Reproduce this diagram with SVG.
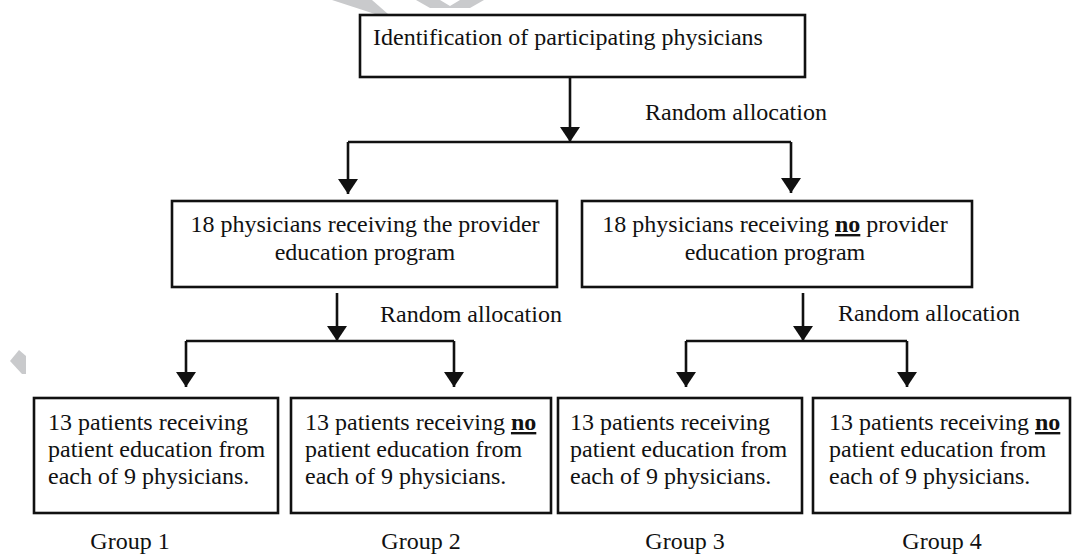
<svg xmlns="http://www.w3.org/2000/svg" width="1073" height="556" viewBox="0 0 1073 556">
<style>
.box{fill:#fff;stroke:#111;stroke-width:2.6}
.t{font-family:"Liberation Serif","Times New Roman",serif;font-size:24px;fill:#111}
.c{text-anchor:middle}
.no{font-weight:bold;text-decoration:underline}
.ln{fill:none;stroke:#111;stroke-width:2.6}
.wm{fill:#c9cacc}
</style>
<defs>
<marker id="ah" viewBox="0 0 15 20" refX="15" refY="10" markerWidth="15" markerHeight="20" markerUnits="userSpaceOnUse" orient="auto">
<path d="M0,0 L15,10 L0,20 z" fill="#111"/>
</marker>
</defs>
<rect width="1073" height="556" fill="#fff"/>
<g id="watermark">
<polygon class="wm" points="332,0 372,0 388,14 378,15"/>
<polygon class="wm" points="416,0 440,0 450,6 460,0 484,0 470,8 430,8"/>
<polygon class="wm" points="10,361 19,350 26,356 26,374 22,374"/>
</g>
<g id="connectors">
<path class="ln" d="M570,77 V142" marker-end="url(#ah)"/>
<path class="ln" d="M348,142 H791"/>
<path class="ln" d="M348,142 V194" marker-end="url(#ah)"/>
<path class="ln" d="M791,142 V193" marker-end="url(#ah)"/>
<path class="ln" d="M337,293 V341" marker-end="url(#ah)"/>
<path class="ln" d="M186,341 H454"/>
<path class="ln" d="M186,341 V387" marker-end="url(#ah)"/>
<path class="ln" d="M454,341 V387" marker-end="url(#ah)"/>
<path class="ln" d="M803,293 V341" marker-end="url(#ah)"/>
<path class="ln" d="M686,341 H907"/>
<path class="ln" d="M686,341 V387" marker-end="url(#ah)"/>
<path class="ln" d="M907,341 V387" marker-end="url(#ah)"/>
<text class="t" x="645" y="120">Random allocation</text>
<text class="t" x="380" y="322">Random allocation</text>
<text class="t" x="838" y="321">Random allocation</text>
</g>
<g id="n0">
<rect class="box" x="360" y="15" width="445" height="62"/>
<text class="t" x="373" y="45">Identification of participating physicians</text>
</g>
<g id="n1">
<rect class="box" x="172" y="201" width="385" height="86"/>
<text class="t c" x="365" y="232">18 physicians receiving the provider</text>
<text class="t c" x="365" y="260">education program</text>
</g>
<g id="n2">
<rect class="box" x="582" y="201" width="390" height="86"/>
<text class="t c" x="775" y="232">18 physicians receiving <tspan class="no">no</tspan> provider</text>
<text class="t c" x="775" y="260">education program</text>
</g>
<g id="n3">
<rect class="box" x="34" y="398" width="244" height="115"/>
<text class="t" x="48" y="430">13 patients receiving</text>
<text class="t" x="48" y="457">patient education from</text>
<text class="t" x="48" y="484">each of 9 physicians.</text>
</g>
<g id="n4">
<rect class="box" x="291" y="398" width="260" height="115"/>
<text class="t" x="305" y="430">13 patients receiving <tspan class="no">no</tspan></text>
<text class="t" x="305" y="457">patient education from</text>
<text class="t" x="305" y="484">each of 9 physicians.</text>
</g>
<g id="n5">
<rect class="box" x="558" y="398" width="244" height="115"/>
<text class="t" x="570" y="430">13 patients receiving</text>
<text class="t" x="570" y="457">patient education from</text>
<text class="t" x="570" y="484">each of 9 physicians.</text>
</g>
<g id="n6">
<rect class="box" x="813" y="398" width="257" height="115"/>
<text class="t" x="829" y="430">13 patients receiving <tspan class="no">no</tspan></text>
<text class="t" x="829" y="457">patient education from</text>
<text class="t" x="829" y="484">each of 9 physicians.</text>
</g>
<g id="labels">
<text class="t c" x="130" y="549">Group 1</text>
<text class="t c" x="421" y="549">Group 2</text>
<text class="t c" x="685" y="549">Group 3</text>
<text class="t c" x="942" y="549">Group 4</text>
</g>
</svg>
